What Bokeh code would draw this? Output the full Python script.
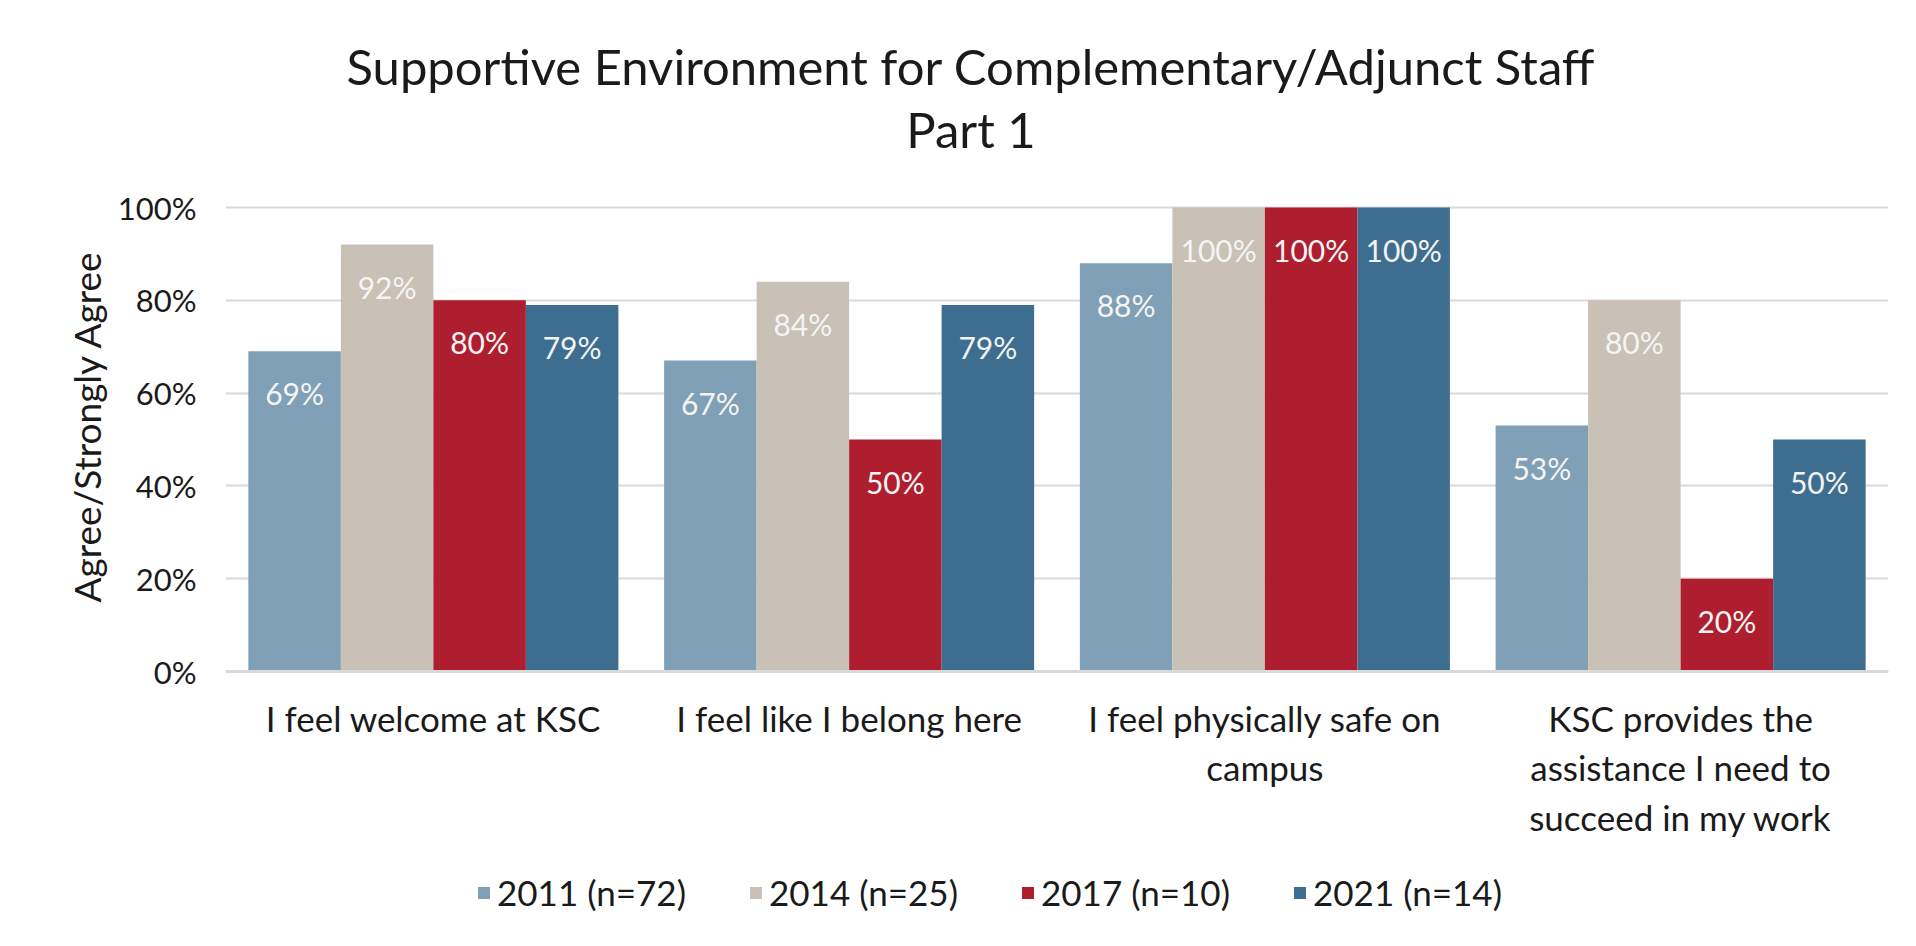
from bokeh.plotting import figure
from bokeh.models import (FactorRange, Range1d, ColumnDataSource, Legend, LegendItem,
                          Title, PrintfTickFormatter, FixedTicker, Span)
from bokeh.transform import dodge
from bokeh.core.properties import value
from bokeh.embed import file_html
from bokeh.resources import INLINE

# ---------------- data ----------------
categories = ["I feel welcome at KSC", "I feel like I belong here",
              "I feel physically safe on\ncampus",
              "KSC provides the\nassistance I need to\nsucceed in my work"]
series_names = ["2011 (n=72)", "2014 (n=25)", "2017 (n=10)", "2021 (n=14)"]
v2011 = [69, 67, 88, 53]
v2014 = [92, 84, 100, 80]
v2017 = [80, 50, 100, 20]
v2021 = [79, 79, 100, 50]
series_values = [v2011, v2014, v2017, v2021]
colors = ["#7FA0B6", "#C9C0B6", "#AE1E2E", "#3D6E8F"]
y_ticks = [0, 20, 40, 60, 80, 100]
title_line1 = "Supportive Environment for Complementary/Adjunct Staff"
title_line2 = "Part 1"
y_title = "Agree/Strongly Agree"

FONT = "Lato"
TXT = "#1a1a1a"

# ---------------- layout (pixels) ----------------
W, H = 1908, 938
PLOT_TOP = 207          # pixel row of 100 %
PLOT_H = 464            # pixels from 100 % to 0 %
y_end = 100 + 100.0 * PLOT_TOP / PLOT_H
y_start = -100.0 * (H - PLOT_TOP - PLOT_H) / PLOT_H

p = figure(width=W, height=H, output_backend="svg", toolbar_location=None,
           x_range=FactorRange(factors=categories, range_padding=0),
           y_range=Range1d(y_start, y_end),
           min_border_left=225, min_border_right=20, min_border_top=0,
           min_border_bottom=0)
p.outline_line_color = None
p.background_fill_color = "white"
p.border_fill_color = "white"

bw = 0.2225
offsets = [-1.5 * bw, -0.5 * bw, 0.5 * bw, 1.5 * bw]
items = []
for name, vals, col, off in zip(series_names, series_values, colors, offsets):
    src = ColumnDataSource(dict(cat=categories, val=vals,
                                lab=["%d%%" % v for v in vals]))
    r = p.vbar(x=dodge("cat", off, range=p.x_range), top="val", width=bw,
               source=src, fill_color=col, line_color=None)
    p.text(x=dodge("cat", off, range=p.x_range), y="val", text="lab", source=src,
           text_align="center", text_baseline="middle", y_offset=42,
           text_color="#F4F4F4", text_font=value(FONT), text_font_size="30px")
    items.append(LegendItem(label=name, renderers=[r]))

# baseline
p.add_layout(Span(location=0, dimension="width", line_color="#D9D9D9", line_width=3))

# category labels under the baseline
cat_src = ColumnDataSource(dict(cat=categories, zero=[0] * len(categories)))
p.text(x="cat", y="zero", text="cat", source=cat_src, text_align="center",
       text_baseline="top", y_offset=25, text_color=TXT, text_font=value(FONT),
       text_font_size="35px", text_line_height=1.18)

# titles
mid = len(categories) / 2.0
ttl_src = ColumnDataSource(dict(x=[mid, mid], y=[100, 100], t=[title_line1, title_line2],
                                dy=[-142, -79]))
p.text(x="x", y="y", text="t", y_offset="dy", x_offset=-86, source=ttl_src,
       text_align="center", text_baseline="middle", text_color=TXT,
       text_font=value(FONT), text_font_size="49px")

# axes
p.xaxis.visible = False
p.xgrid.grid_line_color = None
p.ygrid.grid_line_color = "#D9D9D9"
p.ygrid.grid_line_width = 2
p.yaxis.ticker = FixedTicker(ticks=y_ticks)
p.yaxis.formatter = PrintfTickFormatter(format="%d%%")
p.yaxis.axis_line_color = None
p.yaxis.major_tick_line_color = None
p.yaxis.minor_tick_line_color = None
p.yaxis.major_label_standoff = 23
p.yaxis.major_label_text_font = FONT
p.yaxis.major_label_text_font_size = "31px"
p.yaxis.major_label_text_color = TXT

p.add_layout(Title(text=y_title, align="left", offset=336, text_font=FONT,
                   text_font_size="37px", text_font_style="normal",
                   text_color=TXT, standoff=12), "left")

legend = Legend(items=items, orientation="horizontal", location=(251, 25),
                glyph_width=15, glyph_height=15, label_standoff=6, spacing=62,
                padding=0, margin=0, border_line_color=None,
                background_fill_alpha=0, label_text_font=FONT,
                label_text_font_size="35px", label_text_color=TXT)
p.add_layout(legend, "center")

open("out.html", "w").write(file_html(p, INLINE))
